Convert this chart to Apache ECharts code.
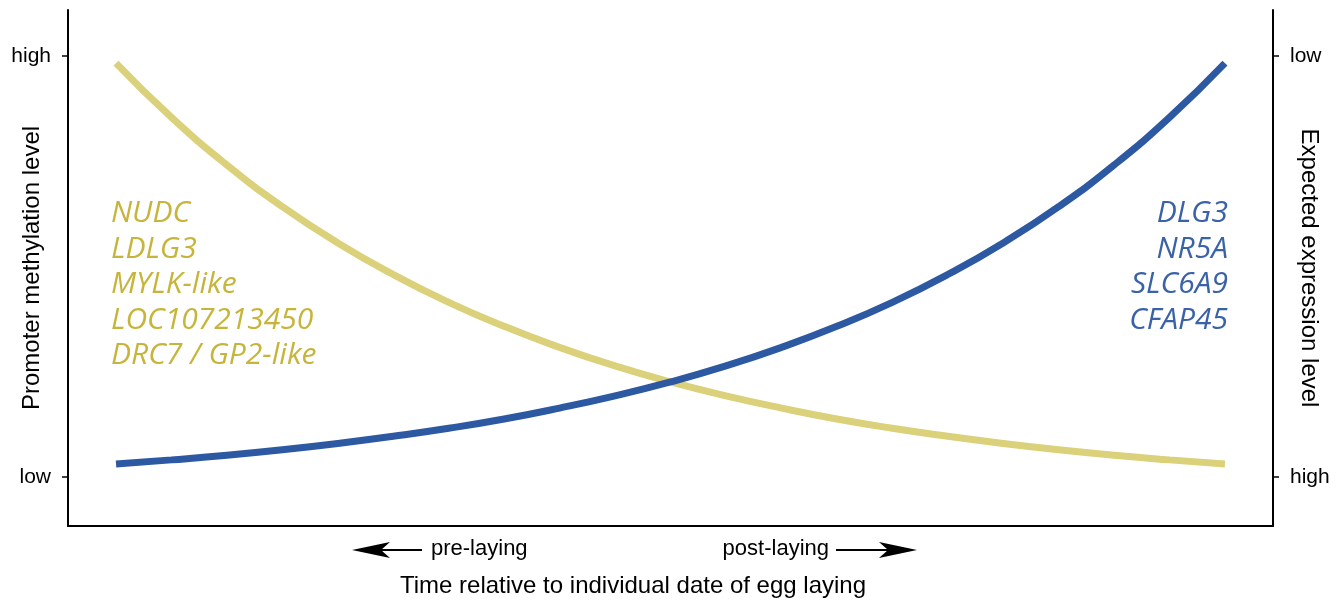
<!DOCTYPE html>
<html>
<head>
<meta charset="utf-8">
<script src="https://cdn.jsdelivr.net/npm/echarts@6/dist/echarts.min.js"></script>
<style>html,body{margin:0;padding:0;background:#fff}#c{width:1344px;height:600px}</style>
</head>
<body>
<div id="c"></div>
<script>
// Time (relative, 0 = earliest, 1 = latest)
const timePoints = [0,0.05,0.10,0.15,0.20,0.25,0.30,0.35,0.40,0.45,0.50,0.55,0.60,0.65,0.70,0.75,0.80,0.85,0.90,0.95,1.00];
// Promoter methylation level (0 = low, 1 = high), yellow curve
const methylation = [0.983,0.854,0.741,0.642,0.556,0.481,0.415,0.358,0.308,0.264,0.226,0.193,0.164,0.138,0.116,0.097,0.080,0.065,0.052,0.041,0.031];
// Expected expression curve (blue), drawn on same scale (1 = top)
const expression = [0.031,0.041,0.052,0.065,0.080,0.097,0.116,0.138,0.164,0.193,0.226,0.264,0.308,0.358,0.415,0.481,0.556,0.642,0.741,0.854,0.983];
const leftTicks = {0:'low', 1:'high'};
const rightTicks = {0:'high', 1:'low'};
const yellowGenes = ['NUDC','LDLG3','MYLK-like','LOC107213450','DRC7 / GP2-like'];
const blueGenes = ['DLG3','NR5A','SLC6A9','CFAP45'];

const YEL = '#dbd17a', YEL_T = '#c6b53a', BLU = '#2d59a3', BLU_T = '#3a62a7';
const chart = echarts.init(document.getElementById('c'));
const FF = 'Liberation Sans, Arial, sans-serif';
function arrow(x1, x2, y, dir){
  const tip = dir < 0 ? x1 : x2;
  const s = dir < 0 ? 1 : -1;
  const L = 38, H = 8, N = 29;
  return [
    {type:'line', shape:{x1: dir<0 ? x1+N : x1, y1:y, x2: dir<0 ? x2 : x2-N, y2:y}, style:{stroke:'#000', lineWidth:2}},
    {type:'polygon', shape:{points:[[tip,y],[tip+s*L,y-H],[tip+s*N,y],[tip+s*L,y+H]]}, style:{fill:'#000'}}
  ];
}
const yCommon = {type:'value', min:-0.116, max:1.109,
  axisLine:{show:true, onZero:false, lineStyle:{color:'#000', width:2}},
  axisTick:{show:true, length:6, lineStyle:{color:'#000', width:1.5}, customValues:[0,1]},
  splitLine:{show:false}};
chart.setOption({
  animation:false,
  grid:{left:68, right:71, top:10, bottom:74},
  xAxis:{type:'value', min:-0.0433, max:1.0433,
    axisLine:{onZero:false, lineStyle:{color:'#000', width:2}}, axisTick:{show:false}, axisLabel:{show:false}, splitLine:{show:false}},
  yAxis:[
    {...yCommon, position:'left',
      axisLabel:{margin:17, fontFamily:FF, fontSize:21, color:'#000', customValues:[0,1], formatter:v=>leftTicks[v]||''}},
    {...yCommon, position:'right',
      axisLabel:{margin:17, fontFamily:FF, fontSize:21, color:'#000', customValues:[0,1], formatter:v=>rightTicks[v]||''}}
  ],
  series:[
    {name:'Promoter methylation', type:'line', smooth:true, symbol:'none', yAxisIndex:0,
      data: timePoints.map((t,i)=>[t, methylation[i]]), lineStyle:{color:YEL, width:7}, itemStyle:{color:YEL}},
    {name:'Expected expression', type:'line', smooth:true, symbol:'none', yAxisIndex:0,
      data: timePoints.map((t,i)=>[t, expression[i]]), lineStyle:{color:BLU, width:7}, itemStyle:{color:BLU}}
  ],
  graphic:[
    {type:'text', x:32, y:268, rotation:Math.PI/2, style:{text:'Promoter methylation level', fontFamily:FF, fill:'#000', fontSize:24, textAlign:'center', textVerticalAlign:'middle'}},
    {type:'text', x:1309, y:268, rotation:-Math.PI/2, style:{text:'Expected expression level', fontFamily:FF, fill:'#000', fontSize:24, textAlign:'center', textVerticalAlign:'middle'}},
    {type:'text', x:633, y:586, style:{text:'Time relative to individual date of egg laying', fontFamily:FF, fill:'#000', fontSize:24, textAlign:'center', textVerticalAlign:'middle'}},
    {type:'text', x:431, y:549, style:{text:'pre-laying', fontFamily:FF, fill:'#000', fontSize:22, textAlign:'left', textVerticalAlign:'middle'}},
    {type:'text', x:829, y:549, style:{text:'post-laying', fontFamily:FF, fill:'#000', fontSize:22, textAlign:'right', textVerticalAlign:'middle'}},
    ...arrow(352, 422, 550, -1),
    ...arrow(836, 917, 550, 1),
    {type:'text', x:111, y:196, style:{text:yellowGenes.join('\n'), fontFamily:'Open Sans, sans-serif', fontStyle:'italic', fontSize:30, lineHeight:35.5, fill:YEL_T, textAlign:'left', textVerticalAlign:'top'}},
    {type:'text', x:1228, y:196, style:{text:blueGenes.join('\n'), fontFamily:'Open Sans, sans-serif', fontStyle:'italic', fontSize:30, lineHeight:35.5, fill:BLU_T, textAlign:'right', textVerticalAlign:'top'}}
  ]
});
</script>
</body>
</html>
